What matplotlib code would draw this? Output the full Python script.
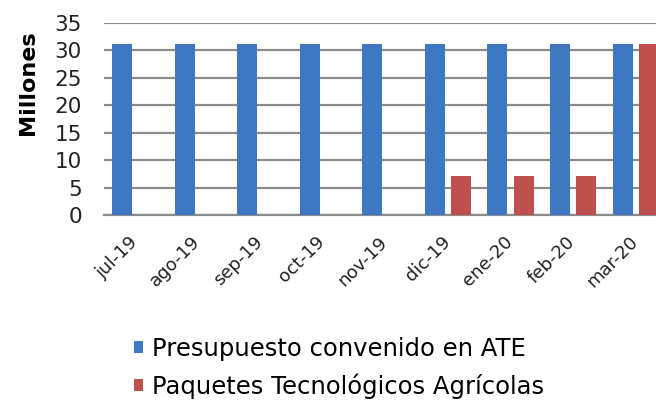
import matplotlib
matplotlib.use("Agg")
import matplotlib.pyplot as plt
import matplotlib.transforms as mtransforms
import numpy as np

categories = ["jul-19", "ago-19", "sep-19", "oct-19", "nov-19", "dic-19", "ene-20", "feb-20", "mar-20"]
presupuesto = [31.2, 31.2, 31.2, 31.2, 31.2, 31.2, 31.2, 31.2, 31.2]
paquetes = [0, 0, 0, 0, 0, 7.1, 7.1, 7.1, 31.2]
series_names = ["Presupuesto convenido en ATE", "Paquetes Tecnológicos Agrícolas"]
yticks = [0, 5, 10, 15, 20, 25, 30, 35]

plt.rcParams['font.family'] = ['DejaVu Sans']

fig = plt.figure(figsize=(6.56, 4.01), dpi=100)
W, H = 656, 401
left, right = 104, 667
top, bottom = 23, 215
ax = fig.add_axes([left / W, 1 - bottom / H, (right - left) / W, (bottom - top) / H])

x = np.arange(len(categories))
bw = 0.32
off = 0.21
b1 = ax.bar(x - off, presupuesto, width=bw, color="#3f78c2", zorder=3, label=series_names[0])
b2 = ax.bar(x + off, paquetes, width=bw, color="#c0504d", zorder=3, label=series_names[1])

ax.set_xlim(-0.5, len(categories) - 0.5)
ax.set_ylim(0, 35)
ax.set_yticks(yticks)
ax.set_yticklabels([str(v) for v in yticks], fontsize=15.5, color="#222222")
ax.yaxis.grid(True, color="#8c8c8c", linewidth=1.6, zorder=0)
ax.set_axisbelow(True)
for s in ["top", "right", "left"]:
    ax.spines[s].set_visible(False)
ax.spines["bottom"].set_color("#8c8c8c")
ax.spines["bottom"].set_linewidth(1.6)
ax.tick_params(axis="y", length=0, pad=16)
ax.tick_params(axis="x", length=0, pad=5)
ax.set_xticks(x)
ax.set_xticklabels(categories, rotation=45, ha="right", rotation_mode="anchor", fontsize=13, color="#222222")
shift = mtransforms.ScaledTranslation(-0.07, -0.11, fig.dpi_scale_trans)
for lab in ax.get_xticklabels():
    lab.set_transform(lab.get_transform() + shift)

ax.set_ylabel("Millones", fontsize=16, fontweight="bold")
ax.yaxis.set_label_coords(-0.117, 0.69)

fig.legend(handles=[b1, b2], labels=series_names, loc="upper left",
           bbox_to_anchor=(112 / W, 1 - 315 / H), frameon=False, fontsize=17.5,
           handlelength=0.38, handleheight=0.38, handletextpad=0.35, labelspacing=0.5)

fig.savefig("out.png", dpi=100)
